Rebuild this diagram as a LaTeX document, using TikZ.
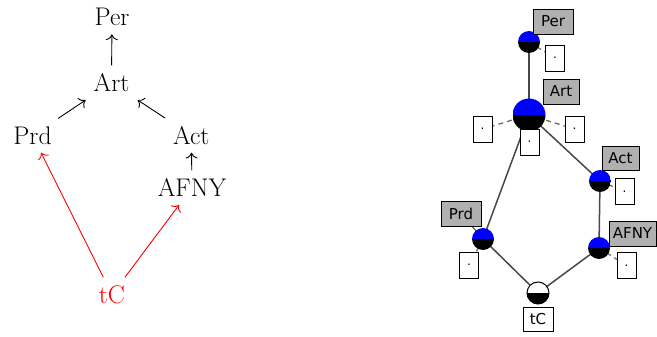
\documentclass[tikz,border=0pt]{standalone}
\usepackage{fontspec}
\newfontfamily\guifont{DejaVu Sans}
\usetikzlibrary{arrows.meta,backgrounds}
\definecolor{labgray}{RGB}{176,176,176}
\definecolor{edgegray}{RGB}{72,72,72}
\begin{document}
\begin{tikzpicture}[x=1pt,y=-1pt,
  lat/.style={font=\fontsize{25.5}{30}\selectfont, inner sep=8pt, anchor=base},
  arr/.style={line width=0.9pt, -{To[scale=1.6]}},
  half/.style={circle, inner sep=0pt, minimum size=#1,
     path picture={
       \fill[blue] (path picture bounding box.west) rectangle (path picture bounding box.north east);
       \fill[black] (path picture bounding box.south west) rectangle (path picture bounding box.east);}},
  halfw/.style={circle, inner sep=0pt, minimum size=#1, draw=black, line width=1pt,
     path picture={
       \fill[white] (path picture bounding box.west) rectangle (path picture bounding box.north east);
       \fill[black] (path picture bounding box.south west) rectangle (path picture bounding box.east);}},
  lab/.style={draw=black, line width=0.9pt, fill=labgray, font=\guifont\fontsize{15}{17}\selectfont,
     inner sep=0pt, minimum height=25pt, minimum width=#1},
  labw/.style={lab=#1, fill=white},
  dotbox/.style={draw=black, line width=0.9pt, fill=white, inner sep=0pt,
     minimum width=19pt, minimum height=26pt, font=\guifont\fontsize{12}{13}\selectfont},
  latedge/.style={draw=edgegray, line width=1.5pt},
  dashconn/.style={draw=edgegray!80, line width=1.3pt, dash pattern=on 5pt off 4pt},
  lconn/.style={draw=edgegray, line width=1pt}
]
\useasboundingbox (0,0) rectangle (657,337);

% ---------- left: Hasse diagram ----------
\node[lat] (per) at (112,26) {Per};
\node[lat] (art) at (111.5,91.7) {Art};
\node[lat] (prd) at (32.5,144.3) {Prd};
\node[lat] (act) at (191.3,144.3) {Act};
\node[lat] (afny) at (192,196.7) {AFNY};
\node[lat, text=red] (tc) at (112,303.3) {tC};

\draw[arr] (art) -- (per);
\draw[arr] (prd) -- (art);
\draw[arr] (act) -- (art);
\draw[arr] (afny) -- (act);
\draw[arr, red] (tc) -- (prd);
\draw[arr, red] (tc) -- (afny);

% ---------- right: lattice screenshot ----------
\node[half=22pt] (rper) at (529,42) {};
\node[half=33pt] (rart) at (529,115) {};
\node[half=22pt] (ract) at (600,181) {};
\node[half=22pt] (rprd) at (483,239) {};
\node[half=22pt] (rafny) at (599,248) {};
\node[halfw=22pt] (rtc) at (538,293) {};

\node[lab=40pt] (lper) at (553,21.5) {Per};
\node[lab=36pt] (lart) at (561,91.5) {Art};
\node[lab=37pt, minimum height=24pt] (lact) at (620.5,158) {Act};
\node[lab=40pt] (lprd) at (461,213.5) {Prd};
\node[lab=47pt] (lafny) at (632.5,233.5) {AFNY};
\node[labw=30pt, minimum height=24pt] (ltc) at (538,319) {tC};

\node[dotbox] (dper) at (555,58) {.};
\node[dotbox] (dartl) at (482.5,129) {.};
\node[dotbox] (dartr) at (574.5,129) {.};
\node[dotbox] (dartb) at (529.5,142) {.};
\node[dotbox] (dact) at (624.5,191.5) {.};
\node[dotbox] (dprd) at (469,265) {.};
\node[dotbox] (dafny) at (626.5,265.5) {.};

\begin{scope}[on background layer]
  \draw[latedge] (rper.center) -- (rart.center);
  \draw[latedge] (rart.center) -- (ract.center);
  \draw[latedge] (rart.center) -- (rprd.center);
  \draw[latedge] (ract.center) -- (rafny.center);
  \draw[latedge] (rprd.center) -- (rtc.center);
  \draw[latedge] (rafny.center) -- (rtc.center);
  \draw[dashconn] (rper.center) -- (dper.center);
  \draw[dashconn] (rart.center) -- (dartl.center);
  \draw[dashconn] (rart.center) -- (dartr.center);
  \draw[dashconn] (rart.center) -- (dartb.center);
  \draw[dashconn] (ract.center) -- (dact.center);
  \draw[dashconn] (rprd.center) -- (dprd.center);
  \draw[dashconn] (rafny.center) -- (dafny.center);
  \draw[lconn] (rprd.center) -- (lprd.center);
\end{scope}
\end{tikzpicture}
\end{document}
